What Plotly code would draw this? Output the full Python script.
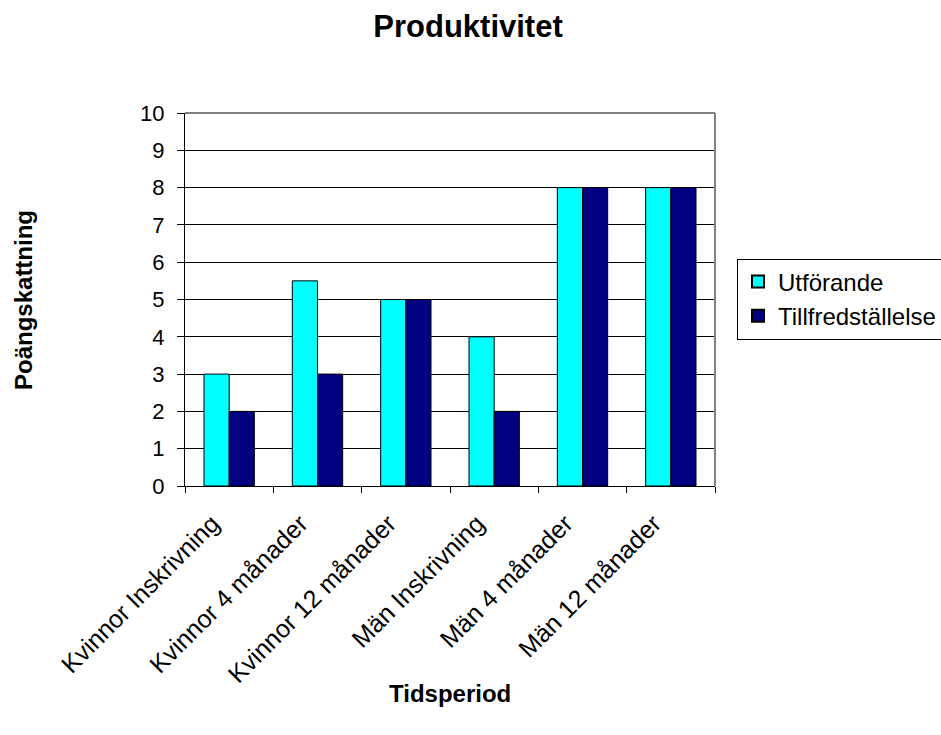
import plotly.graph_objects as go

categories = ["Kvinnor Inskrivning", "Kvinnor 4 månader", "Kvinnor 12 månader",
              "Män Inskrivning", "Män 4 månader", "Män 12 månader"]
utforande = [3, 5.5, 5, 4, 8, 8]
tillfredstallelse = [2, 3, 5, 2, 8, 8]
y_ticks = list(range(0, 11))

FONT = "Liberation Sans, Arial, sans-serif"

fig = go.Figure()
fig.add_trace(go.Bar(x=categories, y=utforande, name="Utförande",
                     marker=dict(color="#00FFFF", line=dict(color="#000000", width=1))))
fig.add_trace(go.Bar(x=categories, y=tillfredstallelse, name="Tillfredställelse",
                     marker=dict(color="#000080", line=dict(color="#000000", width=1))))

W, H = 941, 735
L, R, T, B = 185, 226, 113, 249
PW, PH = W - L - R, H - T - B

fig.update_layout(
    width=W, height=H,
    margin=dict(l=L, r=R, t=T, b=B, pad=0, autoexpand=False),
    paper_bgcolor="white", plot_bgcolor="white",
    font=dict(family=FONT, color="black"),
    barmode="group", bargap=0.43, bargroupgap=0,
    title=dict(text="<b>Produktivitet</b>", x=468 / W, xref="container", xanchor="center",
               y=1 - 26 / H, yref="container", yanchor="middle",
               font=dict(size=31, family=FONT, color="black")),
    showlegend=True,
    legend=dict(x=(737 - L) / PW, xanchor="left", y=(486 - 299) / PH, yanchor="middle",
                bordercolor="black", borderwidth=1, bgcolor="white",
                font=dict(size=24, family=FONT, color="black"),
                itemsizing="constant"),
    xaxis=dict(
        tickangle=-45, tickfont=dict(size=25, family=FONT, color="black"),
        showline=True, linecolor="black", linewidth=1, mirror=False,
        ticks="outside", ticklen=6, tickcolor="black", tickson="boundaries",
        ticklabelstandoff=12, ticklabelshift=-17, automargin=False,
        showgrid=False,
    ),
    yaxis=dict(
        range=[0, 10], tickvals=y_ticks, ticktext=[str(v) for v in y_ticks],
        tickfont=dict(size=22, family=FONT, color="black"),
        showline=True, linecolor="black", linewidth=1,
        ticks="outside", ticklen=7, tickcolor="black",
        ticklabelstandoff=8, automargin=False,
        showgrid=True, gridcolor="black", gridwidth=1, zeroline=False,
    ),
    shapes=[
        dict(type="line", xref="paper", yref="paper", x0=0, x1=1, y0=1, y1=1,
             line=dict(color="#808080", width=2)),
        dict(type="line", xref="paper", yref="paper", x0=1, x1=1, y0=0, y1=1,
             line=dict(color="#808080", width=2)),
    ],
    annotations=[
        dict(text="<b>Poängskattning</b>", textangle=-90, xref="paper", yref="paper",
             x=(23 - L) / PW, y=(486 - 300) / PH,
             xanchor="center", yanchor="middle", showarrow=False,
             font=dict(size=24, family=FONT, color="black")),
        dict(text="<b>Tidsperiod</b>", xref="paper", yref="paper",
             x=(450 - L) / PW, y=-(693 - 486) / PH,
             xanchor="center", yanchor="middle", showarrow=False,
             font=dict(size=24, family=FONT, color="black")),
    ],
)

fig.write_html("out.html")
